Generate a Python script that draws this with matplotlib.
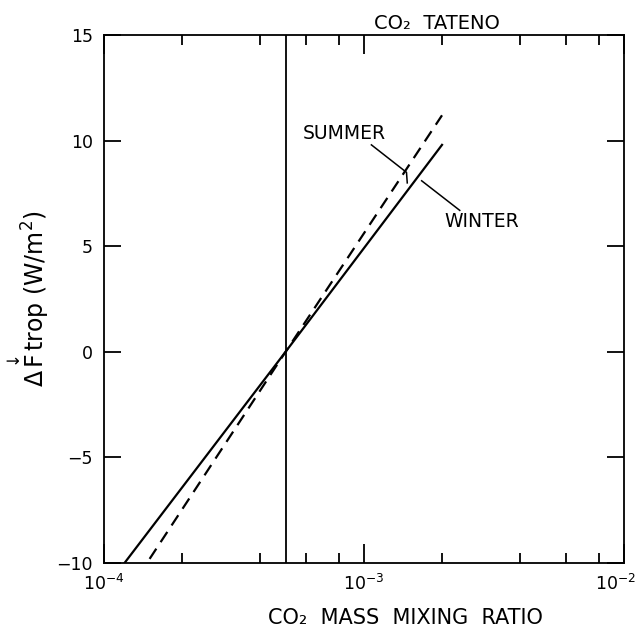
import math
import matplotlib
matplotlib.use("Agg")
import matplotlib.pyplot as plt
from matplotlib.ticker import LogLocator, NullFormatter, FuncFormatter

plt.rcParams['font.family'] = ['DejaVu Sans']
plt.rcParams['mathtext.fontset'] = 'dejavusans'

# CO2 mixing ratio vs change in downward flux at the tropopause
ratio_ref = 5e-4
winter_x = [1.2e-4, 5e-4, 2e-3]
winter_y = [-10.0, 0.0, 9.8]
summer_x = [1.5e-4, 5e-4, 2e-3]
summer_y = [-9.8, 0.0, 11.2]

x_min, x_max = 1e-4, 1e-2
y_ticks = [-10, -5, 0, 5, 10, 15]


def decade_label(v, pos):
    # the right-hand decade is drawn separately, nudged inwards
    if v >= x_max:
        return ''
    return r'$\mathdefault{10^{%d}}$' % round(math.log10(v))


fig = plt.figure(figsize=(6.41, 6.37), dpi=100)
ax = fig.add_axes([0.162, 0.116, 0.811, 0.829])

ax.plot(winter_x, winter_y, color='black', lw=1.6)
ax.plot(summer_x, summer_y, color='black', lw=1.6, dashes=(5.5, 3.5))
ax.axvline(ratio_ref, color='black', lw=1.3)

ax.set_xscale('log')
ax.set_xlim(x_min, x_max)
ax.set_ylim(-10, 15)
ax.set_yticks(y_ticks)

ax.xaxis.set_major_locator(LogLocator(base=10, numticks=5))
ax.xaxis.set_major_formatter(FuncFormatter(decade_label))
ax.xaxis.set_minor_locator(LogLocator(base=10, subs=(2, 4, 6, 8), numticks=10))
ax.xaxis.set_minor_formatter(NullFormatter())

ax.tick_params(which='both', direction='in', top=True, right=True,
               labelsize=12.5, width=1.3, pad=8)
ax.tick_params(axis='x', which='major', length=14)
ax.tick_params(axis='x', which='minor', length=7)
ax.tick_params(axis='y', which='major', length=12)
for s in ax.spines.values():
    s.set_linewidth(1.3)

ax.annotate(r'$\mathdefault{10^{-2}}$', xy=(x_max, 0),
            xycoords=('data', 'axes fraction'), xytext=(-6, -8),
            textcoords='offset points', ha='center', va='top', fontsize=12.5)

ax.set_xlabel('CO₂  MASS  MIXING  RATIO', fontsize=15)
ax.xaxis.set_label_coords(0.58, -0.085)
ax.set_ylabel(r'$\Delta\overset{\downarrow}{\mathrm{F}}$trop (W/m$^2$)',
              fontsize=17, labelpad=4)

ax.text(0.64, 1.003, 'CO₂  TATENO', transform=ax.transAxes,
        ha='center', va='bottom', fontsize=14)

# season labels with leader lines
ax.text(8.4e-4, 10.35, 'SUMMER', ha='center', va='center', fontsize=13.5)
ax.plot([1.07e-3, 1.46e-3, 1.47e-3], [9.8, 8.5, 8.0], color='black', lw=1.1)
ax.text(2.85e-3, 6.15, 'WINTER', ha='center', va='center', fontsize=13.5)
ax.plot([1.67e-3, 2.34e-3], [8.1, 6.7], color='black', lw=1.1)

fig.savefig('out.png', dpi=100)
